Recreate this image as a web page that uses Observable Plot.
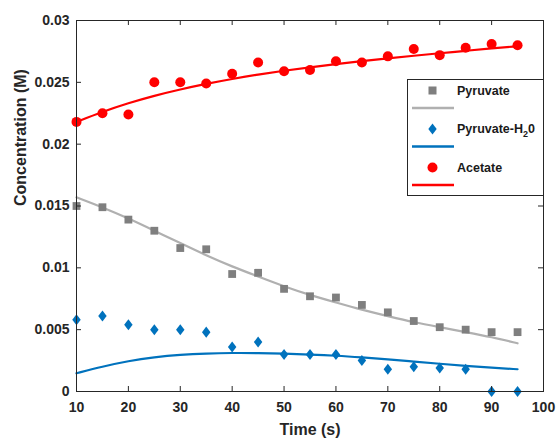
<!DOCTYPE html>
<html>
<head>
<meta charset="utf-8">
<script src="https://cdn.jsdelivr.net/npm/d3@7"></script>
<script src="https://cdn.jsdelivr.net/npm/@observablehq/plot@0.6"></script>
<style>
  html, body { margin: 0; padding: 0; background: #fff; }
  #wrap { position: relative; width: 558px; height: 440px; }
  #legend { position: absolute; left: 407px; top: 79px; }
</style>
</head>
<body>
<div id="wrap"></div>
<script>
// ---- data ----
const time = [10, 15, 20, 25, 30, 35, 40, 45, 50, 55, 60, 65, 70, 75, 80, 85, 90, 95];
const pyruvate = [0.0150, 0.0149, 0.0139, 0.0130, 0.0116, 0.0115, 0.0095, 0.0096, 0.0083, 0.0077, 0.0076, 0.0070, 0.0064, 0.0057, 0.0052, 0.0050, 0.0048, 0.0048];
const pyruvateH2O = [0.0058, 0.0061, 0.0054, 0.0050, 0.0050, 0.0048, 0.0036, 0.0040, 0.0030, 0.0030, 0.0030, 0.0025, 0.0018, 0.0020, 0.0019, 0.0018, 0.0000, 0.0000];
const acetate = [0.0218, 0.0225, 0.0224, 0.0250, 0.0250, 0.0249, 0.0257, 0.0266, 0.0259, 0.0260, 0.0267, 0.0266, 0.0271, 0.0277, 0.0272, 0.0278, 0.0281, 0.0280];
const pyruvateFit = [0.0157, 0.0149, 0.0140, 0.0130, 0.0120, 0.0110, 0.0101, 0.0093, 0.0085, 0.0078, 0.0072, 0.0066, 0.0061, 0.0056, 0.0052, 0.0048, 0.0044, 0.0039];
const pyruvateH2OFit = [0.00148, 0.00202, 0.00247, 0.00278, 0.00298, 0.00308, 0.00312, 0.00311, 0.00306, 0.00299, 0.00290, 0.00276, 0.00260, 0.00242, 0.00224, 0.00207, 0.00192, 0.00180];
const acetateFit = [0.0218, 0.02262, 0.02332, 0.02392, 0.02443, 0.02488, 0.02528, 0.02563, 0.02594, 0.02622, 0.02648, 0.02672, 0.02694, 0.02715, 0.02735, 0.02755, 0.02775, 0.02792];
const xTicks = [10, 20, 30, 40, 50, 60, 70, 80, 90, 100];
const yTicks = [0, 0.005, 0.01, 0.015, 0.02, 0.025, 0.03];
const yTickLabels = ["0", "0.005", "0.01", "0.015", "0.02", "0.025", "0.03"];
const seriesNames = ["Pyruvate", "Pyruvate-H20", "Acetate"];
const xLabel = "Time (s)";
const yLabel = "Concentration (M)";

// ---- layout / style ----
const W = 558, H = 440;
const mL = 76, mR = 15, mT = 20, mB = 49;
const fw = W - mL - mR, fh = H - mT - mB;
const tickLen = 5;
const axisColor = "#262626";
const cGray = "#7f7f7f", cGrayLine = "#b0b0b0", cBlue = "#0072BD", cRed = "#ff0000";

const diamond = {
  draw(ctx, size) {
    const r = Math.sqrt(size / Math.PI);
    ctx.moveTo(0, -r * 1.2);
    ctx.lineTo(r * 0.92, 0);
    ctx.lineTo(0, r * 1.2);
    ctx.lineTo(-r * 0.92, 0);
    ctx.closePath();
  }
};

const pts = (ys) => time.map((t, i) => ({t, v: ys[i]}));

const chart = Plot.plot({
  width: W, height: H,
  marginLeft: mL, marginRight: mR, marginTop: mT, marginBottom: mB,
  style: {fontFamily: "'Liberation Sans', Arial, sans-serif", fontSize: "14px", fontWeight: "bold", color: axisColor, background: "#fff"},
  x: {domain: [10, 100]},
  y: {domain: [0, 0.03]},
  marks: [
    Plot.line(pts(pyruvateFit), {x: "t", y: "v", stroke: cGrayLine, strokeWidth: 2.2, curve: "basis"}),
    Plot.line(pts(pyruvateH2OFit), {x: "t", y: "v", stroke: cBlue, strokeWidth: 2.2, curve: "basis"}),
    Plot.line(pts(acetateFit), {x: "t", y: "v", stroke: cRed, strokeWidth: 2.2, curve: "basis"}),
    Plot.dot(pts(pyruvate), {x: "t", y: "v", symbol: "square", r: 4.4, fill: cGray, stroke: "none"}),
    Plot.dot(pts(pyruvateH2O), {x: "t", y: "v", symbol: diamond, r: 4.6, fill: cBlue, stroke: "none"}),
    Plot.dot(pts(acetate), {x: "t", y: "v", symbol: "circle", r: 5, fill: cRed, stroke: "none"}),
    // inward ticks
    Plot.tickX(xTicks, {x: d => d, insetTop: fh - tickLen, stroke: axisColor}),
    Plot.tickX(xTicks, {x: d => d, insetBottom: fh - tickLen, stroke: axisColor}),
    Plot.tickY(yTicks, {y: d => d, insetRight: fw - tickLen, stroke: axisColor}),
    Plot.tickY(yTicks, {y: d => d, insetLeft: fw - tickLen, stroke: axisColor}),
    Plot.axisX(xTicks, {tickSize: 0, tickPadding: 11, label: null, fill: axisColor}),
    Plot.axisY(yTicks, {tickSize: 0, tickPadding: 7, label: null, fill: axisColor,
      tickFormat: d => yTickLabels[yTicks.indexOf(d)]}),
    Plot.frame({stroke: axisColor, strokeWidth: 1}),
    Plot.text([xLabel], {frameAnchor: "bottom", dy: 38, fontSize: 16, fontWeight: "bold", fill: axisColor, lineAnchor: "middle"}),
    Plot.text([yLabel], {frameAnchor: "left", dx: -56, rotate: -90, fontSize: 16, fontWeight: "bold", fill: axisColor, lineAnchor: "middle"})
  ]
});

const wrap = document.getElementById("wrap");
wrap.appendChild(chart);

// legend (inside axes, top-right)
const lg = document.createElement("div");
lg.id = "legend";
const rows = [
  {name: seriesNames[0], color: cGray, line: cGrayLine, sym: "square"},
  {name: seriesNames[1], color: cBlue, line: cBlue, sym: "diamond"},
  {name: seriesNames[2], color: cRed, line: cRed, sym: "circle"}
];
let svg = `<svg width="137" height="117" xmlns="http://www.w3.org/2000/svg" style="display:block;font-family:'Liberation Sans',Arial,sans-serif;font-weight:bold;font-size:12.5px">`;
svg += `<rect x="0.5" y="0.5" width="136" height="116" fill="#fff" stroke="${axisColor}" stroke-width="1"/>`;
rows.forEach((r, i) => {
  const my = 11.5 + i * 38.5, ly = 29 + i * 38.5;
  if (r.sym === "square") svg += `<rect x="21.5" y="${my - 4}" width="8" height="8" fill="${r.color}"/>`;
  else if (r.sym === "diamond") svg += `<path d="M25.5,${my - 5.5}L29.7,${my}L25.5,${my + 5.5}L21.3,${my}Z" fill="${r.color}"/>`;
  else svg += `<circle cx="25.5" cy="${my}" r="5" fill="${r.color}"/>`;
  let label = r.name;
  if (r.name === "Pyruvate-H20") label = `Pyruvate-H<tspan dy="4" font-size="9">2</tspan><tspan dy="-4">0</tspan>`;
  svg += `<text x="50" y="${my}" dy="0.35em" fill="#1a1a1a">${label}</text>`;
  svg += `<line x1="5" x2="47" y1="${ly}" y2="${ly}" stroke="${r.line}" stroke-width="2.5"/>`;
});
svg += `</svg>`;
lg.innerHTML = svg;
wrap.appendChild(lg);
</script>
</body>
</html>
